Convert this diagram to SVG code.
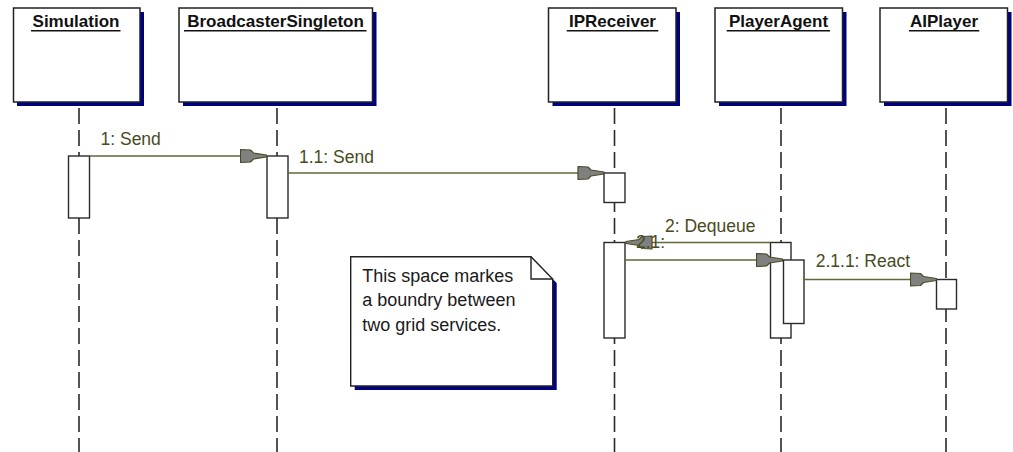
<svg xmlns="http://www.w3.org/2000/svg" width="1013" height="452" viewBox="0 0 1013 452">
<style>
.bg{fill:#ffffff}
.shadow{fill:#000080}
.box{fill:#ffffff;stroke:#222222;stroke-width:1.5}
.title{font-family:"Liberation Sans",Arial,sans-serif;font-size:17px;font-weight:bold;fill:#111111;text-anchor:middle}
.ul{stroke:#111111;stroke-width:1.4}
.life{stroke:#2a2a2a;stroke-width:1.6;stroke-dasharray:16 6;stroke-dashoffset:16;fill:none}
.act{fill:#ffffff;stroke:#2a2a2a;stroke-width:1.4}
.msg{stroke:#66663d;stroke-width:1.5;fill:none;marker-end:url(#ah)}
.lbl{font-family:"Liberation Sans",Arial,sans-serif;font-size:17.5px;fill:#4a4a22}
.note{fill:#ffffff;stroke:#222222;stroke-width:1.4}
.ntxt{font-family:"Liberation Sans",Arial,sans-serif;font-size:18px;fill:#1a1a1a}
</style>
<defs>
<marker id="ah" viewBox="-27 -8 28 16" refX="0" refY="0" markerWidth="28" markerHeight="16" markerUnits="userSpaceOnUse" orient="auto">
<path d="M0,-1 L-13,-3 L-16,-6 L-26,-6.5 L-26,6.5 L-16,6 L-13,3 L0,1 Z" fill="#808080" stroke="#4a4a26" stroke-width="1.2" stroke-linejoin="round"/>
</marker>
</defs>
<rect class="bg" x="0" y="0" width="1013" height="452"/>

<g id="lifelines">
<line class="life" x1="79" y1="102" x2="79" y2="452"/>
<line class="life" x1="277" y1="102" x2="277" y2="452"/>
<line class="life" x1="614.5" y1="102" x2="614.5" y2="452"/>
<line class="life" x1="781" y1="102" x2="781" y2="452"/>
<line class="life" x1="946" y1="102" x2="946" y2="452"/>
</g>

<g id="node-simulation">
<rect class="shadow" x="17" y="12" width="127" height="94"/>
<rect class="box" x="13.5" y="8" width="126.5" height="94"/>
<text class="title" x="76" y="26.7">Simulation</text>
<line class="ul" x1="31" y1="30.7" x2="120.5" y2="30.7"/>
</g>

<g id="node-broadcaster">
<rect class="shadow" x="183" y="12" width="193.5" height="94"/>
<rect class="box" x="179" y="8" width="193.5" height="94"/>
<text class="title" x="275.5" y="26.7">BroadcasterSingleton</text>
<line class="ul" x1="184" y1="30.7" x2="366.5" y2="30.7"/>
</g>

<g id="node-ipreceiver">
<rect class="shadow" x="552.5" y="12" width="127.5" height="94"/>
<rect class="box" x="548.5" y="8" width="127.5" height="94"/>
<text class="title" x="612.5" y="26.7">IPReceiver</text>
<line class="ul" x1="566.7" y1="30.7" x2="658.3" y2="30.7"/>
</g>

<g id="node-playeragent">
<rect class="shadow" x="719" y="12" width="127.5" height="94"/>
<rect class="box" x="715" y="8" width="127.5" height="94"/>
<text class="title" x="778.5" y="26.7">PlayerAgent</text>
<line class="ul" x1="726.7" y1="30.7" x2="830" y2="30.7"/>
</g>

<g id="node-aiplayer">
<rect class="shadow" x="884" y="12" width="127.5" height="94"/>
<rect class="box" x="880" y="8" width="127.5" height="94"/>
<text class="title" x="944" y="26.7">AIPlayer</text>
<line class="ul" x1="909" y1="30.7" x2="979.3" y2="30.7"/>
</g>

<g id="activations">
<rect class="act" x="68.5" y="156" width="21" height="62"/>
<rect class="act" x="267" y="156" width="21" height="62"/>
<rect class="act" x="604" y="173" width="21" height="29.5"/>
<rect class="act" x="604" y="242.5" width="21" height="95.5"/>
<rect class="act" x="770.5" y="242.5" width="20.5" height="95.5"/>
<rect class="act" x="783.5" y="260" width="20.5" height="63.5"/>
<rect class="act" x="936.5" y="279.5" width="20" height="29.5"/>
</g>

<g id="connectors">
<line class="msg" x1="89.5" y1="156" x2="266.5" y2="156"/>
<line class="msg" x1="288" y1="173" x2="604" y2="173"/>
<line class="msg" x1="770.5" y1="242.5" x2="626" y2="242.5"/>
<line class="msg" x1="625" y1="260" x2="782.5" y2="260"/>
<line class="msg" x1="804" y1="279.5" x2="936.5" y2="279.5"/>
<text class="lbl" x="100.5" y="145">1: Send</text>
<text class="lbl" x="299" y="162.7">1.1: Send</text>
<text class="lbl" x="665" y="231.7">2: Dequeue</text>
<text class="lbl" x="636" y="248.3">2.1:</text>
<text class="lbl" x="815.7" y="267.3">2.1.1: React</text>
</g>

<g id="note">
<polygon class="shadow" points="354.7,260.7 535,260.7 556.7,283 556.7,390 354.7,390"/>
<polygon class="note" points="350.7,256.7 531,256.7 552.7,279 552.7,386 350.7,386"/>
<polyline class="note" fill="none" points="531,256.7 531,279 552.7,279" style="fill:none"/>
<text class="ntxt" x="362.3" y="281.7">This space markes</text>
<text class="ntxt" x="362.3" y="306.2">a boundry between</text>
<text class="ntxt" x="362.3" y="330.7">two grid services.</text>
</g>
</svg>
